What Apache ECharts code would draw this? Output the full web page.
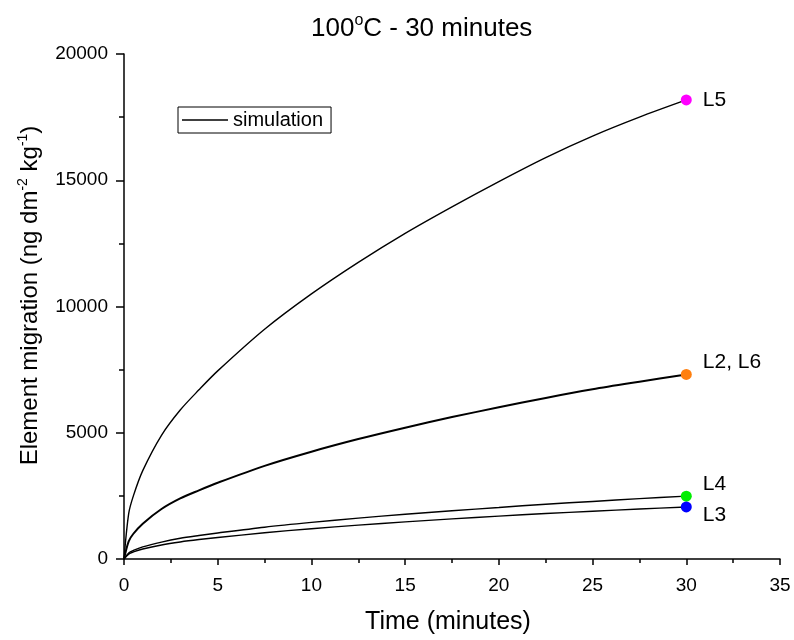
<!DOCTYPE html>
<html>
<head>
<meta charset="utf-8">
<script src="https://cdn.jsdelivr.net/npm/echarts@6/dist/echarts.min.js"></script>
<style>html,body{margin:0;padding:0;background:#fff}#c{width:794px;height:640px}</style>
</head>
<body>
<div id="c"></div>
<script>
var times = [0, 0.25, 0.5, 1, 2, 3, 4, 5, 7.5, 10, 12.5, 15, 17.5, 20, 22.5, 25, 27.5, 30];
var L5 = [0, 1800, 2500, 3500, 4900, 5900, 6700, 7450, 9100, 10500, 11750, 12900, 13950, 14950, 15900, 16750, 17500, 18180];
var L2L6 = [0, 700, 1000, 1400, 1980, 2400, 2720, 3020, 3690, 4250, 4750, 5200, 5620, 6010, 6380, 6720, 7020, 7310];
var L4 = [0, 240, 340, 480, 670, 820, 930, 1030, 1260, 1450, 1620, 1770, 1910, 2040, 2170, 2280, 2390, 2490];
var L3 = [0, 195, 280, 395, 555, 675, 770, 850, 1040, 1200, 1340, 1470, 1590, 1700, 1800, 1890, 1980, 2060];
var endLabels = ['L5', 'L2, L6', 'L4', 'L3'];
var endColors = ['#ff00ff', '#ff7f0e', '#00ee00', '#0000ff'];
var xTicks = [0, 35, 5];
var yTicks = [0, 20000, 5000];

var FONT = 'Liberation Sans, Arial, sans-serif';
function pairs(v){ return times.map(function(t,i){ return [t, v[i]]; }); }
var curves = [L5, L2L6, L4, L3];
var widths = [1.4, 2, 1.4, 1.4];
var series = [];
curves.forEach(function(c, i){
  series.push({ name: 'simulation', type: 'line', data: pairs(c), smooth: 0.3, symbol: 'none', showSymbol: false,
    lineStyle: { color: '#000', width: widths[i] }, itemStyle: { color: '#000' }, z: 2 });
});
var labelOffsets = [[6, 0], [6, -12], [6, -12], [6, 8]];
curves.forEach(function(c, i){
  series.push({ name: endLabels[i], type: 'scatter', data: [[times[times.length-1], c[c.length-1]]],
    symbolSize: 11, itemStyle: { color: endColors[i], opacity: 1 }, z: 3,
    label: { show: true, formatter: endLabels[i], position: 'right', offset: labelOffsets[i],
      color: '#000', fontSize: 21, fontFamily: FONT } });
});

var chart = echarts.init(document.getElementById('c'), null, { renderer: 'canvas' });
chart.setOption({
  backgroundColor: '#fff',
  animation: false,
  textStyle: { fontFamily: FONT },
  title: {
    text: '100{sup|o}C - 30 minutes', left: 306, top: 8,
    textStyle: { fontSize: 26, fontWeight: 'normal', color: '#000', fontFamily: FONT,
      rich: { sup: { fontSize: 16, verticalAlign: 'top', padding: [0, 0, 16, 0], color: '#000', fontFamily: FONT } } }
  },
  legend: {
    data: [{ name: 'simulation', icon: 'rect' }], left: 178, top: 107, orient: 'vertical',
    borderColor: '#000', borderWidth: 1, borderRadius: 0, padding: [3, 8, 3, 4],
    itemWidth: 46, itemHeight: 1.5, itemGap: 4,
    itemStyle: { color: '#000' },
    textStyle: { fontSize: 20, color: '#000', fontFamily: FONT, lineHeight: 20 }
  },
  grid: { left: 124, right: 14, top: 54, bottom: 80 },
  xAxis: {
    type: 'value', min: xTicks[0], max: xTicks[1], interval: xTicks[2],
    name: 'Time (minutes)', nameLocation: 'middle', nameGap: 51,
    nameTextStyle: { fontSize: 25, color: '#000', fontFamily: FONT, padding: [0, 8, 0, 0] },
    axisLine: { show: true, onZero: false, lineStyle: { color: '#000', width: 1.5 } },
    axisTick: { show: true, inside: false, length: 6, lineStyle: { color: '#000', width: 1.5 } },
    minorTick: { show: true, splitNumber: 2, length: 4, lineStyle: { color: '#000', width: 1.5 } },
    axisLabel: { fontSize: 19, color: '#000', margin: 17, fontFamily: FONT },
    splitLine: { show: false }, minorSplitLine: { show: false }
  },
  yAxis: {
    type: 'value', min: yTicks[0], max: yTicks[1], interval: yTicks[2],
    name: 'Element migration (ng dm{sup|-2} kg{sup|-1})', nameLocation: 'middle', nameGap: 80, nameRotate: 90,
    nameTextStyle: { fontSize: 24, color: '#000', fontFamily: FONT, padding: [0, 0, 0, 22],
      rich: { sup: { fontSize: 14, verticalAlign: 'top', padding: [0, 0, 14, 0], color: '#000', fontFamily: FONT } } },
    axisLine: { show: true, onZero: false, lineStyle: { color: '#000', width: 1.5 } },
    axisTick: { show: true, inside: false, length: 8, lineStyle: { color: '#000', width: 1.5 } },
    minorTick: { show: true, splitNumber: 2, length: 5, lineStyle: { color: '#000', width: 1.5 } },
    axisLabel: { fontSize: 19, color: '#000', margin: 16, fontFamily: FONT, formatter: function(v){ return String(v); } },
    splitLine: { show: false }, minorSplitLine: { show: false }
  },
  series: series
});
</script>
</body>
</html>
